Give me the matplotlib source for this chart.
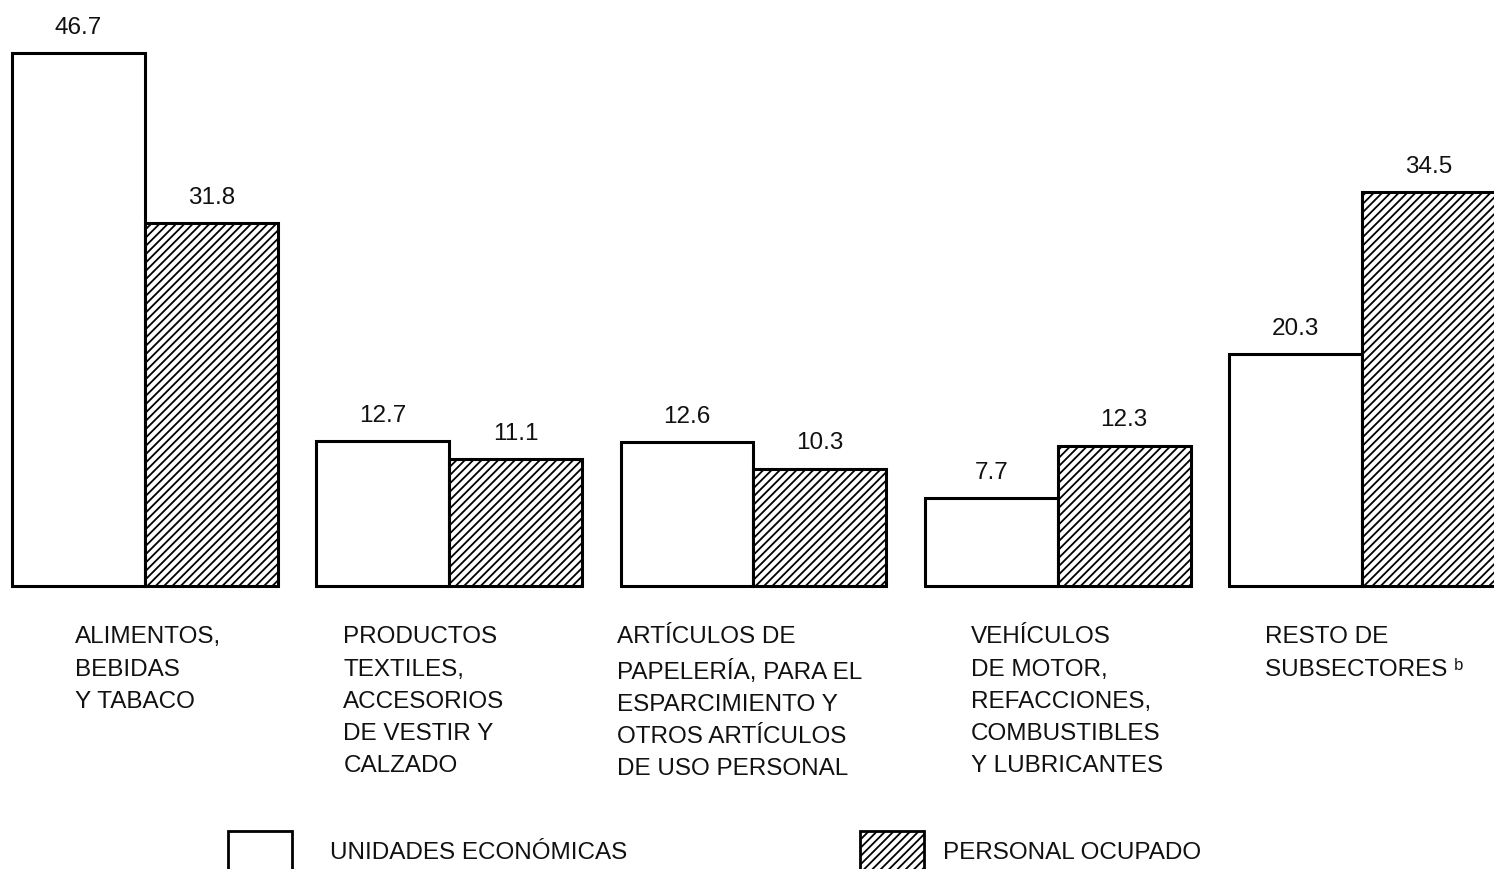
import matplotlib.pyplot as plt
from matplotlib.patches import Rectangle

plt.rcParams['font.family'] = ['Liberation Sans', 'DejaVu Sans']
plt.rcParams['hatch.linewidth'] = 1.3

# data
categorias = [
    "ALIMENTOS,\nBEBIDAS\nY TABACO",
    "PRODUCTOS\nTEXTILES,\nACCESORIOS\nDE VESTIR Y\nCALZADO",
    "ARTÍCULOS DE\nPAPELERÍA, PARA EL\nESPARCIMIENTO Y\nOTROS ARTÍCULOS\nDE USO PERSONAL",
    "VEHÍCULOS\nDE MOTOR,\nREFACCIONES,\nCOMBUSTIBLES\nY LUBRICANTES",
    "RESTO DE\nSUBSECTORES ᵇ",
]
unidades = [46.7, 12.7, 12.6, 7.7, 20.3]
personal = [31.8, 11.1, 10.3, 12.3, 34.5]
leyenda = ["UNIDADES ECONÓMICAS", "PERSONAL OCUPADO"]

# layout
label_dx = [-0.230, -0.348, -0.450, -0.286, -0.319]
w = 0.437

fig = plt.figure(figsize=(14.94, 8.7), dpi=100)
ax = fig.add_axes([0, 0, 1, 1])
ax.set_xlim(-0.4766, 4.434)
ax.set_ylim(-24.8, 51.45)
ax.axis('off')

x = list(range(len(categorias)))
b1 = ax.bar([i - w / 2 for i in x], unidades, width=w, color='white',
            edgecolor='black', linewidth=2.2)
b2 = ax.bar([i + w / 2 for i in x], personal, width=w, color='white',
            edgecolor='black', linewidth=2.2, hatch='////')

for bars in (b1, b2):
    for r in bars:
        ax.annotate(f"{r.get_height():.1f}",
                    (r.get_x() + r.get_width() / 2, r.get_height()),
                    xytext=(0, 19), textcoords='offset points',
                    ha='center', va='center', fontsize=17.5, color='#111111')

for i, lab in enumerate(categorias):
    ax.text(i + label_dx[i], -3.45, lab, ha='left', va='top', fontsize=17.5,
            linespacing=1.6, color='#111111')

# legend drawn by hand
fig.add_artist(Rectangle((228 / 1494, -0.01), 64 / 1494, (870 - 832) / 870 + 0.01,
                         transform=fig.transFigure, facecolor='white',
                         edgecolor='black', linewidth=2))
fig.add_artist(Rectangle((860 / 1494, -0.01), 64 / 1494, (870 - 832) / 870 + 0.01,
                         transform=fig.transFigure, facecolor='white',
                         edgecolor='black', linewidth=2, hatch='////'))
fig.text(330 / 1494, 1 - 853 / 870, leyenda[0], ha='left', va='center',
         fontsize=17.5, color='#111111')
fig.text(943 / 1494, 1 - 853 / 870, leyenda[1], ha='left', va='center',
         fontsize=17.5, color='#111111')

plt.savefig('out.png', dpi=100)
